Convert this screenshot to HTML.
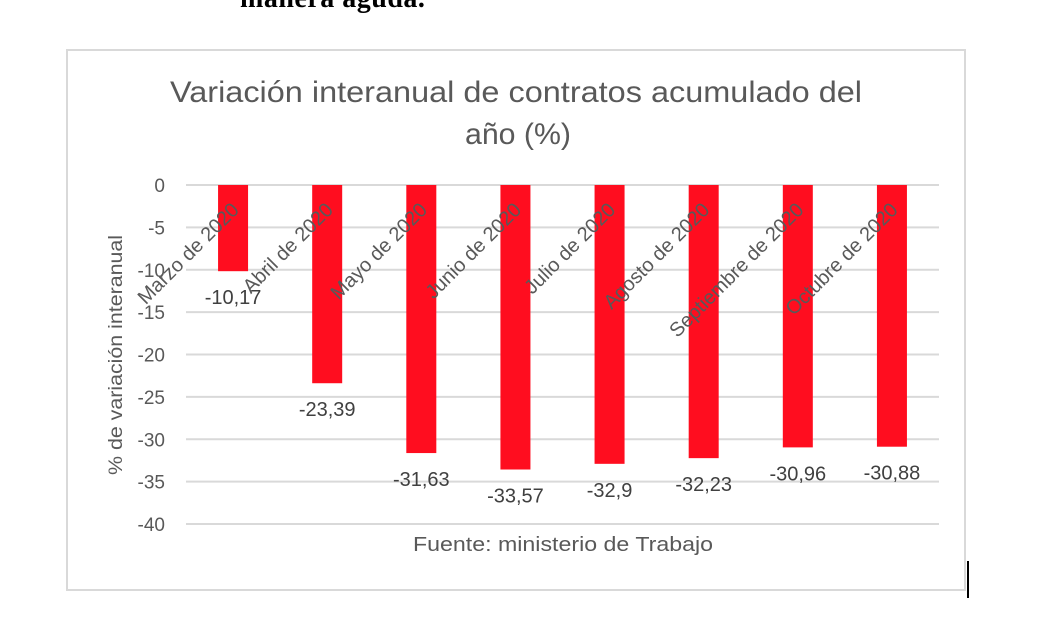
<!DOCTYPE html>
<html><head><meta charset="utf-8">
<style>
body{margin:0;background:#fff;width:1062px;height:638px;overflow:hidden;position:relative;font-family:"Liberation Sans",sans-serif}
#top{position:absolute;left:240px;top:-17px;font:bold 28px "Liberation Serif",serif;color:#000;letter-spacing:0.5px}
#cursor{position:absolute;left:967px;top:561px;width:2px;height:37px;background:#000}
</style></head>
<body>
<div id="top">manera aguda.</div>
<svg width="1062" height="638" style="position:absolute;left:0;top:0">
<rect x="67" y="50" width="898" height="540" fill="#fff" stroke="#d9d9d9" stroke-width="2"/>
<text x="170" y="102" textLength="692" lengthAdjust="spacingAndGlyphs" font-size="30" fill="#595959">Variación interanual de contratos  acumulado del</text>
<text x="465" y="144" textLength="106" lengthAdjust="spacingAndGlyphs" font-size="30" fill="#595959">año (%)</text>
<text transform="translate(122,355) rotate(-90)" text-anchor="middle" textLength="240" lengthAdjust="spacingAndGlyphs" font-size="19" fill="#595959">% de variación interanual</text>
<text x="413" y="551" textLength="300" lengthAdjust="spacingAndGlyphs" font-size="20" fill="#595959">Fuente: ministerio de Trabajo</text>
<g id="grid"></g><g id="bars"></g><g id="labels"></g>
</svg>
<div id="cursor"></div>
<script>
const categories=["Marzo de 2020","Abril de 2020","Mayo de 2020","Junio de 2020","Julio de 2020","Agosto de 2020","Septiembre de 2020","Octubre de 2020"];
const values=[-10.17,-23.39,-31.63,-33.57,-32.9,-32.23,-30.96,-30.88];
const valueLabels=["-10,17","-23,39","-31,63","-33,57","-32,9","-32,23","-30,96","-30,88"];
const ticks=[0,-5,-10,-15,-20,-25,-30,-35,-40];
const NS="http://www.w3.org/2000/svg";
const x0=186,x1=939,y0=185,y40=524;
const y=v=>y0+(y40-y0)*(v/-40);
const bw=(x1-x0)/categories.length;
const xc=i=>x0+bw*(i+0.5);
function mk(t,a,p){const e=document.createElementNS(NS,t);for(const k in a)e.setAttribute(k,a[k]);p.appendChild(e);return e;}
const G=document.getElementById('grid'),B=document.getElementById('bars'),L=document.getElementById('labels');
ticks.forEach(t=>{
 const l=mk('line',{x1:x0,x2:x1,y1:y(t),y2:y(t),stroke:'#d9d9d9','stroke-width':2},G);
 
 
 const tx=mk('text',{x:165,y:y(t)+7,'text-anchor':'end','font-size':19,fill:'#595959'},G);
 tx.textContent=t;
 
 
});
values.forEach((v,i)=>{
 const r=mk('rect',{x:xc(i)-15,y:y0,width:30,height:y(v)-y0,fill:'#ff0d1f'},B);
 
 
 const t=mk('text',{x:xc(i),y:y(v)+33,'text-anchor':'middle','font-size':20,fill:'#404040'},L);
 t.textContent=valueLabels[i];
 
 
});
categories.forEach((c,i)=>{
 const t=mk('text',{transform:`translate(${xc(i)+7},${y0+26}) rotate(-45)`,'text-anchor':'end','font-size':20,fill:'#595959'},L);
 t.textContent=c;
 
 
});
</script>
</body></html>
